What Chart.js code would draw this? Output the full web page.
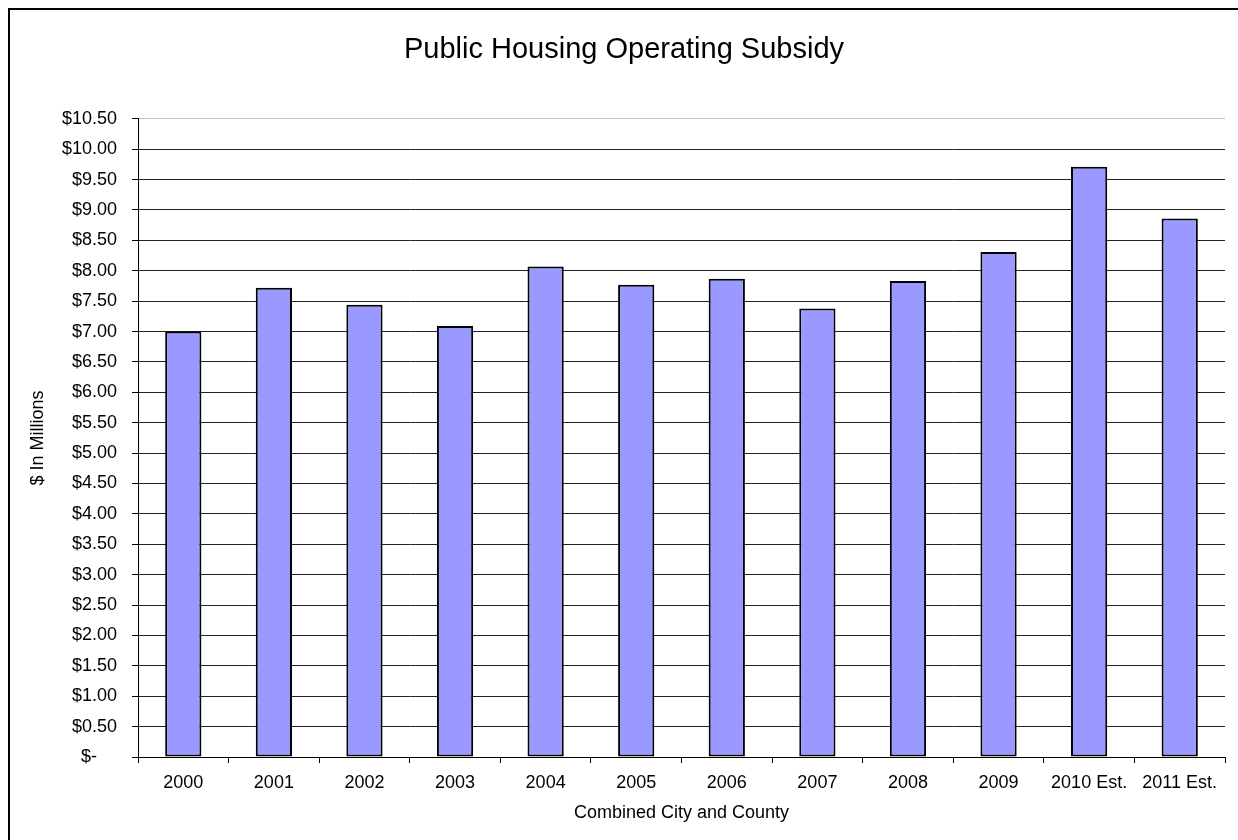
<!DOCTYPE html>
<html>
<head>
<meta charset="utf-8">
<title>Public Housing Operating Subsidy</title>
<script src="https://cdn.jsdelivr.net/npm/chart.js@4/dist/chart.umd.min.js"></script>
<style>
  html, body { margin: 0; padding: 0; background: #fff; overflow: hidden; }
  #frame {
    position: absolute; left: 8px; top: 8px; width: 1300px; height: 900px;
    border-left: 2px solid #000; border-top: 2px solid #000;
  }
  #wrap { position: absolute; left: 0; top: 0; width: 1238px; height: 840px; }
</style>
</head>
<body>
<div id="frame"></div>
<div id="wrap"><canvas id="chart" width="1238" height="840"></canvas></div>
<script>
// operating subsidy per year, $ millions
const years = ['2000', '2001', '2002', '2003', '2004', '2005', '2006', '2007', '2008', '2009', '2010 Est.', '2011 Est.'];
const subsidy = [7.00, 7.72, 7.44, 7.09, 8.07, 7.77, 7.87, 7.38, 7.83, 8.31, 9.71, 8.86];
const yMax = 10.5;
const yStep = 0.5;

const font = 'Liberation Sans, Arial, Helvetica, sans-serif';

function moneyLabel(v) {
  if (Math.abs(v) < 1e-9) return '$-    ';
  return '$' + v.toFixed(2);
}

const ctx = document.getElementById('chart');
new Chart(ctx, {
  type: 'bar',
  data: {
    labels: years,
    datasets: [{
      data: subsidy,
      backgroundColor: '#9999FF',
      borderColor: '#000',
      borderWidth: 2,
      borderSkipped: false,
      barPercentage: 0.4,
      categoryPercentage: 1.0
    }]
  },
  options: {
    responsive: false,
    animation: false,
    layout: { padding: { left: 23, right: 13, top: 0, bottom: 0 } },
    plugins: {
      legend: { display: false },
      tooltip: { enabled: false },
      title: {
        display: true,
        text: 'Public Housing Operating Subsidy',
        color: '#000',
        font: { family: font, size: 29, weight: 'normal', lineHeight: 1.2 },
        padding: { top: 33, bottom: 51 }
      }
    },
    scales: {
      x: {
        offset: true,
        grid: {
          offset: true,
          drawOnChartArea: true,
          color: (c) => c.index === years.length ? '#c0c0c0' : 'rgba(0,0,0,0)',
          tickColor: '#000',
          tickLength: 6,
          lineWidth: 1
        },
        border: { display: true, color: '#000', width: 1 },
        ticks: {
          color: '#000',
          font: { family: font, size: 18 },
          padding: 9,
          maxRotation: 0,
          autoSkip: false
        },
        title: {
          display: true,
          text: 'Combined City and County',
          color: '#000',
          font: { family: font, size: 18 },
          padding: { top: 0, bottom: 16 }
        },
        afterFit: (s) => { s.height = 83; }
      },
      y: {
        min: 0,
        max: yMax,
        grid: {
          color: (c) => {
            if (c.tick && c.tick.value >= yMax) return '#c0c0c0';
            return '#222';
          },
          tickColor: '#000',
          tickLength: 6,
          lineWidth: 1
        },
        border: { display: true, color: '#000', width: 1 },
        ticks: {
          stepSize: yStep,
          color: '#000',
          font: { family: font, size: 18 },
          padding: 15,
          callback: (v) => moneyLabel(v)
        },
        title: {
          display: true,
          text: '$ In Millions',
          color: '#000',
          font: { family: font, size: 18 },
          padding: { top: 4, bottom: 0 }
        },
        afterFit: (s) => { s.width = 115; }
      }
    }
  }
});
</script>
</body>
</html>
